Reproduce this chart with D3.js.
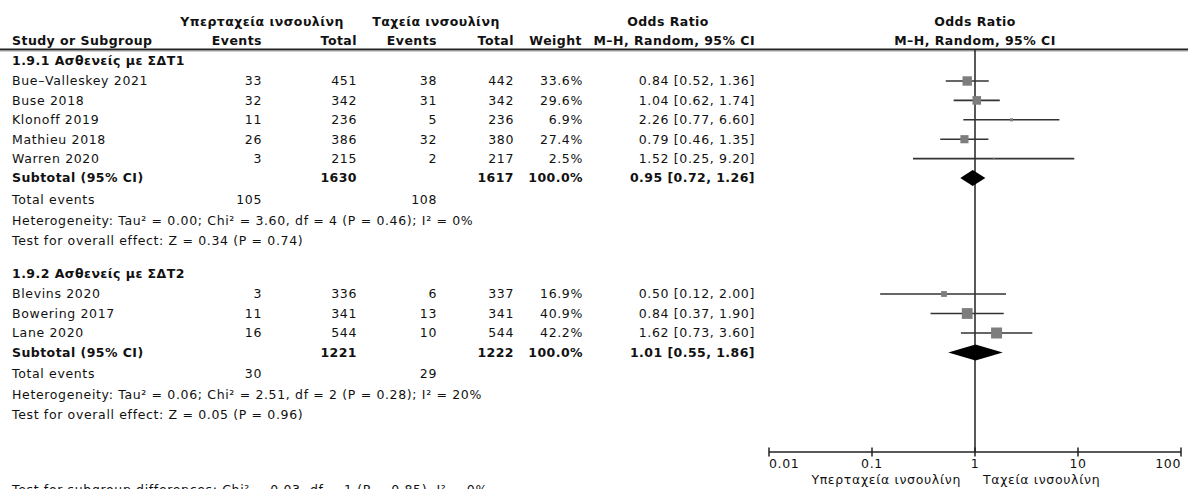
<!DOCTYPE html>
<html>
<head>
<meta charset="utf-8">
<script src="https://cdn.jsdelivr.net/npm/d3@7"></script>
<style>
  html, body { margin: 0; padding: 0; background: #fff; }
  svg { display: block; font-family: "DejaVu Sans", sans-serif; }
  text { fill: #111; font-size: 12.5px; letter-spacing: 0.65px; }
  text.b { font-weight: bold; letter-spacing: 0.45px; }
</style>
</head>
<body>
<svg id="chart" width="1192" height="489"></svg>
<script>
// ---- Subgroup 1.9.1 ----
const g1Title = "1.9.1 Ασθενείς με ΣΔΤ1";
const g1Studies = ["Bue–Valleskey 2021", "Buse 2018", "Klonoff 2019", "Mathieu 2018", "Warren 2020"];
const g1EventsA = [33, 32, 11, 26, 3];
const g1TotalA = [451, 342, 236, 386, 215];
const g1EventsB = [38, 31, 5, 32, 2];
const g1TotalB = [442, 342, 236, 380, 217];
const g1Weight = [33.6, 29.6, 6.9, 27.4, 2.5];
const g1OR = [0.84, 1.04, 2.26, 0.79, 1.52];
const g1Low = [0.52, 0.62, 0.77, 0.46, 0.25];
const g1High = [1.36, 1.74, 6.60, 1.35, 9.20];
const g1Sub = { totalA: 1630, totalB: 1617, weight: 100.0, or: 0.95, lo: 0.72, hi: 1.26, eventsA: 105, eventsB: 108 };
const g1Het = "Heterogeneity: Tau² = 0.00; Chi² = 3.60, df = 4 (P = 0.46); I² = 0%";
const g1Test = "Test for overall effect: Z = 0.34 (P = 0.74)";

// ---- Subgroup 1.9.2 ----
const g2Title = "1.9.2 Ασθενείς με ΣΔΤ2";
const g2Studies = ["Blevins 2020", "Bowering 2017", "Lane 2020"];
const g2EventsA = [3, 11, 16];
const g2TotalA = [336, 341, 544];
const g2EventsB = [6, 13, 10];
const g2TotalB = [337, 341, 544];
const g2Weight = [16.9, 40.9, 42.2];
const g2OR = [0.50, 0.84, 1.62];
const g2Low = [0.12, 0.37, 0.73];
const g2High = [2.00, 1.90, 3.60];
const g2Sub = { totalA: 1221, totalB: 1222, weight: 100.0, or: 1.01, lo: 0.55, hi: 1.86, eventsA: 30, eventsB: 29 };
const g2Het = "Heterogeneity: Tau² = 0.06; Chi² = 2.51, df = 2 (P = 0.28); I² = 20%";
const g2Test = "Test for overall effect: Z = 0.05 (P = 0.96)";

const subgroupDiff = "Test for subgroup differences: Chi² = 0.03, df = 1 (P = 0.85), I² = 0%";

// ---- Axis ----
const axisTicks = [0.01, 0.1, 1, 10, 100];
const axisTickLabels = ["0.01", "0.1", "1", "10", "100"];
const favoursLeft = "Υπερταχεία ινσουλίνη";
const favoursRight = "Ταχεία ινσουλίνη";
const groupHeadA = "Υπερταχεία ινσουλίνη";
const groupHeadB = "Ταχεία ινσουλίνη";

// Build groups from the arrays above
function buildGroup(title, names, ea, ta, eb, tb, w, or, lo, hi, sub, het, test) {
  return {
    title, sub, het, test,
    studies: names.map((n, i) => ({ name: n, ea: ea[i], ta: ta[i], eb: eb[i], tb: tb[i], w: w[i], or: or[i], lo: lo[i], hi: hi[i] }))
  };
}
const groups = [
  buildGroup(g1Title, g1Studies, g1EventsA, g1TotalA, g1EventsB, g1TotalB, g1Weight, g1OR, g1Low, g1High, g1Sub, g1Het, g1Test),
  buildGroup(g2Title, g2Studies, g2EventsA, g2TotalA, g2EventsB, g2TotalB, g2Weight, g2OR, g2Low, g2High, g2Sub, g2Het, g2Test)
];

const svg = d3.select("#chart");

// Column anchors (right edges for numeric columns)
const col = { name: 12, ea: 262, ta: 357, eb: 437, tb: 514, w: 583, ci: 755 };

// Forest plot scale
const x = d3.scaleLog().domain([0.01, 100]).range([769, 1181]);
const axisY = 452;
const boxSize = d3.scalePow().exponent(0.7).domain([0, 42.2]).range([0, 11]);

const fmt2 = d3.format(".2f");
const fmtW = d3.format(".1f");
const ciText = d => `${fmt2(d.or)} [${fmt2(d.lo)}, ${fmt2(d.hi)}]`;

function txt(xp, yp, s, anchor = "start", bold = false) {
  return svg.append("text")
    .attr("x", xp).attr("y", yp).attr("dy", "0.35em")
    .attr("text-anchor", anchor)
    .classed("b", bold)
    .text(s);
}

// ---- Header ----
txt(262, 22, groupHeadA, "middle", true);
txt(436, 22, groupHeadB, "middle", true);
txt(668, 22, "Odds Ratio", "middle", true);
txt(975, 22, "Odds Ratio", "middle", true);
txt(col.name, 41, "Study or Subgroup", "start", true);
txt(col.ea, 41, "Events", "end", true);
txt(col.ta, 41, "Total", "end", true);
txt(col.eb, 41, "Events", "end", true);
txt(col.tb, 41, "Total", "end", true);
txt(582, 41, "Weight", "end", true);
txt(col.ci, 41, "M–H, Random, 95% CI", "end", true);
txt(975, 41, "M–H, Random, 95% CI", "middle", true);

svg.append("line")
  .attr("x1", 0).attr("x2", 1188).attr("y1", 49.5).attr("y2", 49.5)
  .attr("stroke", "#222").attr("stroke-width", 2);
svg.append("line")
  .attr("x1", 0).attr("x2", 1188).attr("y1", 51.2).attr("y2", 51.2)
  .attr("stroke", "#aaa").attr("stroke-width", 0.8);

// Line of no effect
svg.append("line")
  .attr("x1", x(1)).attr("x2", x(1)).attr("y1", 50).attr("y2", axisY)
  .attr("stroke", "#222").attr("stroke-width", 1.5);

// ---- Rows ----
const layouts = [
  { head: 61, rows: [81, 100.4, 119.8, 139.2, 158.6], sub: 178, tot: 200, het: 220.5, test: 241 },
  { head: 273.5, rows: [294, 313.5, 333], sub: 352.5, tot: 374, het: 394.5, test: 415 }
];

groups.forEach((g, gi) => {
  const L = layouts[gi];
  txt(col.name, L.head, g.title, "start", true);

  const rows = g.studies.map((s, i) => ({ ...s, y: L.rows[i] }));

  rows.forEach(r => {
    txt(col.name, r.y, r.name);
    txt(col.ea, r.y, r.ea, "end");
    txt(col.ta, r.y, r.ta, "end");
    txt(col.eb, r.y, r.eb, "end");
    txt(col.tb, r.y, r.tb, "end");
    txt(col.w, r.y, fmtW(r.w) + "%", "end");
    txt(col.ci, r.y, ciText(r), "end");
  });

  // confidence intervals
  svg.append("g").selectAll("line").data(rows).join("line")
    .attr("x1", d => x(d.lo)).attr("x2", d => x(d.hi))
    .attr("y1", d => d.y).attr("y2", d => d.y)
    .attr("stroke", "#333").attr("stroke-width", 1.6);

  // weighted boxes
  svg.append("g").selectAll("rect").data(rows).join("rect")
    .attr("x", d => x(d.or) - boxSize(d.w) / 2)
    .attr("y", d => d.y - boxSize(d.w) / 2)
    .attr("width", d => boxSize(d.w))
    .attr("height", d => boxSize(d.w))
    .attr("fill", "#7d7d7d");

  // subtotal
  const s = g.sub;
  txt(col.name, L.sub, "Subtotal (95% CI)", "start", true);
  txt(col.ta, L.sub, s.totalA, "end", true);
  txt(col.tb, L.sub, s.totalB, "end", true);
  txt(col.w, L.sub, fmtW(s.weight) + "%", "end", true);
  txt(col.ci, L.sub, ciText(s), "end", true);

  const h = 8;
  svg.append("path")
    .datum(s)
    .attr("d", d => `M${x(d.lo)},${L.sub} L${x(d.or)},${L.sub - h} L${x(d.hi)},${L.sub} L${x(d.or)},${L.sub + h} Z`)
    .attr("fill", "#000");

  txt(col.name, L.tot, "Total events");
  txt(col.ea, L.tot, s.eventsA, "end");
  txt(col.eb, L.tot, s.eventsB, "end");
  txt(col.name, L.het, g.het);
  txt(col.name, L.test, g.test);
});

// ---- Axis ----
const ax = svg.append("g");
ax.append("line")
  .attr("x1", x(axisTicks[0])).attr("x2", x(axisTicks[axisTicks.length - 1]))
  .attr("y1", axisY).attr("y2", axisY)
  .attr("stroke", "#222").attr("stroke-width", 1.5);
ax.selectAll("line.tick").data(axisTicks).join("line")
  .attr("class", "tick")
  .attr("x1", d => x(d)).attr("x2", d => x(d))
  .attr("y1", axisY - 4.5).attr("y2", axisY + 4.5)
  .attr("stroke", "#222").attr("stroke-width", 1.5);
ax.selectAll("text").data(axisTicks).join("text")
  .attr("x", d => x(d))
  .attr("y", 464).attr("dy", "0.35em")
  .attr("text-anchor", (d, i) => i === 0 ? "start" : (i === axisTicks.length - 1 ? "end" : "middle"))
  .text((d, i) => axisTickLabels[i]);

txt(x(1) - 14, 480, favoursLeft, "end");
txt(x(1) + 8, 480, favoursRight, "start");

// ---- Footer ----
svg.append("text").attr("x", col.name).attr("y", 494).text(subgroupDiff);
</script>
</body>
</html>
